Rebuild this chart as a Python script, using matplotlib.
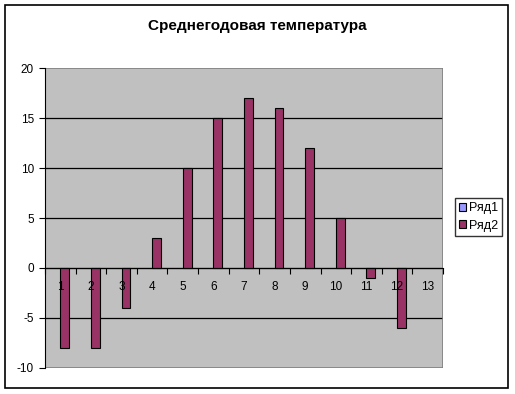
import numpy as np
import matplotlib
matplotlib.use("Agg")
import matplotlib.pyplot as plt
from matplotlib.patches import Rectangle

# data
categories = [str(i) for i in range(1, 14)]
row1 = [np.nan] * 13                     # "Ряд1" has no visible values
row2 = [-8, -8, -4, 3, 10, 15, 17, 16, 12, 5, -1, -6, np.nan]
series_names = ["Ряд1", "Ряд2"]
y_ticks = [-10, -5, 0, 5, 10, 15, 20]
title = "Среднегодовая температура"

plt.rcParams["font.family"] = ["Liberation Sans", "DejaVu Sans"]
plt.rcParams["axes.unicode_minus"] = False

fig = plt.figure(figsize=(5.15, 3.94), dpi=100)
ax = fig.add_axes([45 / 515, 26 / 394, 398 / 515, 300 / 394])
ax.set_facecolor("#C0C0C0")
ax.set_axisbelow(False)  # tick labels drawn over the bars

x = np.arange(len(categories))
w = 1 / 3.5
ax.bar(x - w / 2, row1, width=w, color="#9999FF", edgecolor="black",
       linewidth=0.8, label=series_names[0], zorder=1.2)
ax.bar(x + w / 2, row2, width=w, color="#993366", edgecolor="black",
       linewidth=0.8, label=series_names[1], zorder=1.2)

ax.set_xlim(-0.5, len(categories) - 0.5)
ax.set_ylim(y_ticks[0], y_ticks[-1])

# gridlines behind the bars
ax.hlines(y_ticks[1:-1], -0.5, len(categories) - 0.5, colors="black",
          linewidth=0.9, zorder=0.5)

# x axis sits on zero
ax.spines["bottom"].set_position(("data", 0))
ax.spines["bottom"].set_color("black")
ax.spines["left"].set_color("black")
for s in ("top", "right"):
    ax.spines[s].set_visible(False)
ax.add_patch(Rectangle((0, 0), 1, 1, transform=ax.transAxes, fill=False,
                       edgecolor="#808080", linewidth=1.2, zorder=0.6))

ax.set_xticks(x)
ax.set_xticklabels(categories, fontsize=8.5)
ax.set_xticks(np.arange(-0.5, len(categories), 1), minor=True)
ax.tick_params(axis="x", which="major", length=0, pad=9)
ax.tick_params(axis="x", which="minor", length=4, direction="out", width=0.8)

ax.set_yticks(y_ticks)
ax.tick_params(axis="y", length=4, width=0.8, labelsize=8.5, pad=4)

fig.text(257 / 515, 1 - 26 / 394, title, ha="center", va="center",
         fontsize=11, fontweight="bold")

fig.legend(loc="center left", bbox_to_anchor=(455 / 515, 1 - 217 / 394),
           fontsize=9, frameon=True, fancybox=False, edgecolor="black",
           handlelength=0.6, handleheight=0.6, handletextpad=0.25,
           borderpad=0.3, labelspacing=0.45, borderaxespad=0)

fig.patches.append(Rectangle((5 / 515, 6 / 394), 503 / 515, 383 / 394,
                             transform=fig.transFigure, fill=False,
                             edgecolor="black", linewidth=1.2))

fig.savefig("out.png", dpi=100)
